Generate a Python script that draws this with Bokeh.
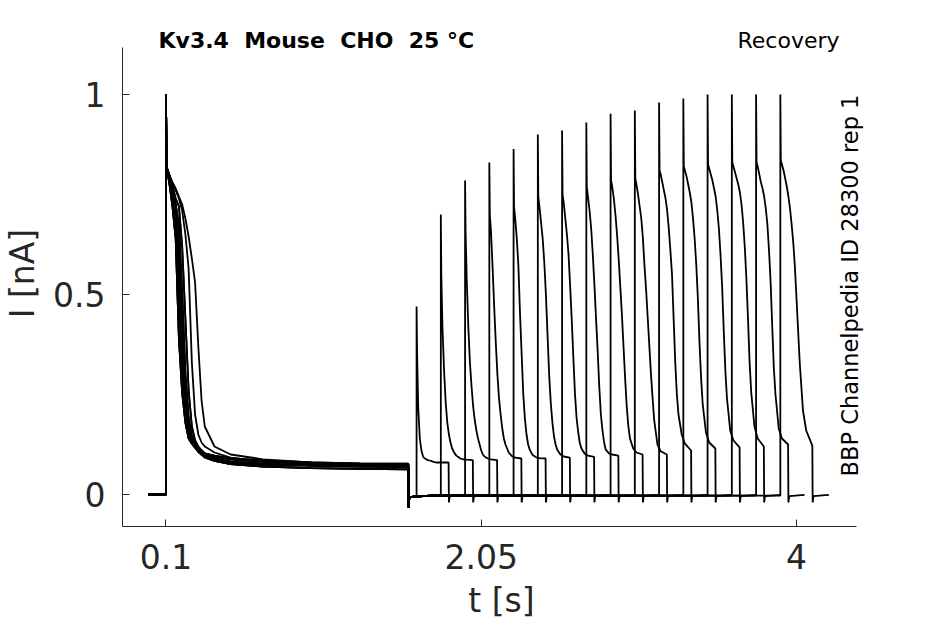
from math import pi

from bokeh.plotting import figure
from bokeh.models import Range1d, Label, FixedTicker
from bokeh.embed import file_html
from bokeh.resources import INLINE

# ---- protocol timing (s) ----
SWEEP_START = -0.01
PRE_ON = 0.1
PRE_OFF = 1.6
TEST_ON = [1.65, 1.80, 1.95, 2.10, 2.25, 2.40, 2.55, 2.70,
           2.85, 3.00, 3.15, 3.30, 3.45, 3.60, 3.75, 3.90]
TEST_LEN = 0.2
TAIL_LEN = 0.1
BASE_I = 0.0

# ---- prepulse current, read at these offsets after PRE_ON (ms) ----
PRE_MS = [0, 3, 20, 40, 60, 80, 100, 120, 140, 160, 180, 200, 220, 240,
          300, 400, 600, 900, 1200, 1499]
PRE_SLOW = [1.0, 0.82, 0.80, 0.78, 0.765, 0.745, 0.725, 0.69, 0.645, 0.59,
            0.53, 0.37, 0.235, 0.17, 0.12, 0.10, 0.088, 0.08, 0.076, 0.074]
PRE_LATE = [1.0, 0.82, 0.80, 0.78, 0.76, 0.74, 0.71, 0.65, 0.565, 0.33,
            0.20, 0.15, 0.13, 0.12, 0.105, 0.092, 0.082, 0.076, 0.073, 0.072]
PRE_A = [1.0, 0.82, 0.78, 0.72, 0.64, 0.39, 0.255, 0.18, 0.14, 0.127,
         0.117, 0.107, 0.10, 0.095, 0.088, 0.08, 0.075, 0.072, 0.07, 0.069]
PRE_B = [1.0, 0.82, 0.785, 0.74, 0.68, 0.50, 0.32, 0.20, 0.15, 0.13,
         0.118, 0.108, 0.10, 0.093, 0.084, 0.076, 0.07, 0.066, 0.064, 0.063]
PRE_C = [1.0, 0.82, 0.79, 0.75, 0.71, 0.60, 0.40, 0.24, 0.165, 0.135,
         0.12, 0.11, 0.102, 0.097, 0.09, 0.082, 0.077, 0.073, 0.071, 0.07]
PRE_D = [1.0, 0.82, 0.795, 0.76, 0.725, 0.67, 0.50, 0.30, 0.19, 0.145,
         0.125, 0.113, 0.105, 0.10, 0.094, 0.088, 0.082, 0.078, 0.076, 0.075]
PRE_E = [1.0, 0.82, 0.80, 0.77, 0.74, 0.72, 0.62, 0.44, 0.26, 0.17,
         0.135, 0.12, 0.11, 0.103, 0.097, 0.091, 0.085, 0.08, 0.078, 0.077]
PRE_SHAPES = [PRE_SLOW, PRE_LATE, PRE_A, PRE_B, PRE_C, PRE_D, PRE_E]
PRE_OF_SWEEP = [0, 1, 2, 3, 4, 5, 6, 2, 3, 4, 5, 6, 3, 4, 5, 2]

# ---- step back to holding after the prepulse ----
OFF_MS = [0, 5, 30, 150]
OFF_I = [-0.032, -0.008, -0.005, -0.003]

# ---- test pulse current, read at these offsets after each onset (ms) ----
TEST_MS = [0, 3, 10, 20, 30, 40, 50, 60, 70, 80, 90, 100, 110, 120, 140, 160, 198]
TEST_I = [
    [0.47, 0.36, 0.22, 0.14, 0.11, 0.095, 0.09, 0.088, 0.086, 0.085, 0.084, 0.082, 0.081, 0.08, 0.08, 0.08, 0.08],
    [0.70, 0.55, 0.42, 0.31, 0.23, 0.18, 0.15, 0.13, 0.115, 0.107, 0.10, 0.096, 0.093, 0.09, 0.088, 0.087, 0.086],
    [0.785, 0.66, 0.54, 0.42, 0.33, 0.27, 0.22, 0.185, 0.16, 0.14, 0.125, 0.11, 0.10, 0.095, 0.09, 0.088, 0.086],
    [0.83, 0.70, 0.66, 0.57, 0.47, 0.38, 0.30, 0.24, 0.20, 0.165, 0.14, 0.125, 0.115, 0.105, 0.096, 0.092, 0.09],
    [0.864, 0.72, 0.69, 0.64, 0.57, 0.45, 0.35, 0.25, 0.19, 0.15, 0.125, 0.112, 0.104, 0.098, 0.093, 0.091, 0.09],
    [0.90, 0.745, 0.72, 0.68, 0.64, 0.58, 0.50, 0.40, 0.30, 0.23, 0.18, 0.145, 0.125, 0.112, 0.10, 0.095, 0.092],
    [0.91, 0.75, 0.73, 0.69, 0.65, 0.60, 0.52, 0.435, 0.34, 0.25, 0.19, 0.155, 0.128, 0.115, 0.102, 0.097, 0.094],
    [0.93, 0.77, 0.745, 0.71, 0.665, 0.60, 0.525, 0.44, 0.36, 0.27, 0.20, 0.16, 0.13, 0.112, 0.103, 0.10, 0.097],
    [0.952, 0.785, 0.77, 0.74, 0.70, 0.65, 0.59, 0.52, 0.45, 0.37, 0.29, 0.22, 0.17, 0.14, 0.115, 0.105, 0.10],
    [0.96, 0.79, 0.775, 0.75, 0.72, 0.69, 0.64, 0.57, 0.51, 0.44, 0.37, 0.30, 0.24, 0.185, 0.125, 0.108, 0.10],
    [0.98, 0.81, 0.80, 0.78, 0.76, 0.74, 0.71, 0.665, 0.61, 0.55, 0.44, 0.33, 0.25, 0.20, 0.15, 0.127, 0.11],
    [0.99, 0.82, 0.81, 0.795, 0.775, 0.755, 0.73, 0.69, 0.64, 0.575, 0.49, 0.38, 0.29, 0.225, 0.155, 0.13, 0.115],
    [1.0, 0.825, 0.815, 0.80, 0.785, 0.765, 0.745, 0.71, 0.665, 0.60, 0.52, 0.41, 0.31, 0.24, 0.16, 0.135, 0.118],
    [1.0, 0.83, 0.82, 0.805, 0.79, 0.775, 0.755, 0.725, 0.68, 0.62, 0.54, 0.44, 0.33, 0.255, 0.17, 0.14, 0.12],
    [1.0, 0.83, 0.82, 0.80, 0.78, 0.765, 0.745, 0.715, 0.675, 0.61, 0.53, 0.42, 0.315, 0.25, 0.165, 0.14, 0.125],
    [1.0, 0.835, 0.825, 0.81, 0.79, 0.77, 0.745, 0.715, 0.675, 0.63, 0.57, 0.49, 0.41, 0.33, 0.21, 0.16, 0.122],
]

# ---- step back to holding after each test pulse ----
END_MS = [0, 5, 100]
END_I = [-0.02, -0.004, -0.001]

# axis extents; the frame is made a little bigger so the corner texts fit
X_AXIS = (-0.169, 4.371)
Y_AXIS = (-0.08, 1.1175)
X_TICKS = [0.1, 2.05, 4]
X_TICK_LABELS = ["0.1", "2.05", "4"]
Y_TICKS = [0, 0.5, 1]
Y_TICK_LABELS = ["0", "0.5", "1"]

FONT = "DejaVu Sans"
INK = "#262626"
GAP = " \u00a0"  # double space that survives svg whitespace collapsing

# assemble each sweep from its pieces
xs, ys = [], []
for k, t_on in enumerate(TEST_ON):
    x = [SWEEP_START, PRE_ON]
    y = [BASE_I, BASE_I]
    x += [PRE_ON + m / 1000 for m in PRE_MS]
    y += PRE_SHAPES[PRE_OF_SWEEP[k]]
    for m, i in zip(OFF_MS, OFF_I):
        if PRE_OFF + m / 1000 < t_on:
            x.append(PRE_OFF + m / 1000)
            y.append(i)
    x.append(t_on)
    y.append(OFF_I[-1])
    x += [t_on + m / 1000 for m in TEST_MS]
    y += TEST_I[k]
    x += [t_on + TEST_LEN + m / 1000 for m in END_MS]
    y += END_I
    x.append(t_on + TEST_LEN + TAIL_LEN)
    y.append(END_I[-1])
    xs.append(x)
    ys.append(y)

p = figure(width=945, height=624, output_backend="svg", toolbar_location=None,
           x_range=Range1d(X_AXIS[0], 4.5196), y_range=Range1d(Y_AXIS[0], 1.185),
           min_border_left=122, min_border_right=65,
           min_border_top=20, min_border_bottom=98)
p.outline_line_color = None
p.grid.visible = False
p.background_fill_color = "white"
p.border_fill_color = "white"

p.multi_line(xs, ys, line_color="black", line_width=1.8)

p.xaxis.ticker = FixedTicker(ticks=X_TICKS)
p.xaxis.major_label_overrides = dict(zip(X_TICKS, X_TICK_LABELS))
p.xaxis.bounds = X_AXIS
p.yaxis.ticker = FixedTicker(ticks=Y_TICKS)
p.yaxis.major_label_overrides = dict(zip(Y_TICKS, Y_TICK_LABELS))
p.yaxis.bounds = Y_AXIS
p.xaxis.axis_label = "t [s]"
p.yaxis.axis_label = "I [nA]"

for ax in (p.xaxis, p.yaxis):
    ax.axis_line_color = INK
    ax.axis_line_width = 1
    ax.major_tick_line_color = INK
    ax.major_tick_in = 7
    ax.major_tick_out = 0
    ax.minor_tick_line_color = None
    ax.major_label_text_font = FONT
    ax.major_label_text_font_size = "33px"
    ax.major_label_text_color = INK
    ax.axis_label_text_font = FONT
    ax.axis_label_text_font_size = "33px"
    ax.axis_label_text_font_style = "normal"
    ax.axis_label_text_color = INK
p.xaxis.major_label_standoff = 17
p.xaxis.axis_label_standoff = 9
p.yaxis.major_label_standoff = 17
p.yaxis.axis_label_standoff = 8

title = GAP.join(["Kv3.4", "Mouse", "CHO", "25 °C"])
p.add_layout(Label(x=0.0536, y=1.135, text=title,
                   text_font=FONT, text_font_size="22px", text_font_style="bold",
                   text_color="black", text_baseline="middle", text_align="left"))
p.add_layout(Label(x=4.266, y=1.135, text="Recovery",
                   text_font=FONT, text_font_size="22px",
                   text_color="black", text_baseline="middle", text_align="right"))
p.add_layout(Label(x=4.334, y=0.5225, text="BBP Channelpedia ID 28300 rep 1",
                   angle=pi / 2, text_font=FONT, text_font_size="22.5px",
                   text_color="black", text_baseline="middle", text_align="center"))

open("out.html", "w").write(file_html(p, INLINE))
